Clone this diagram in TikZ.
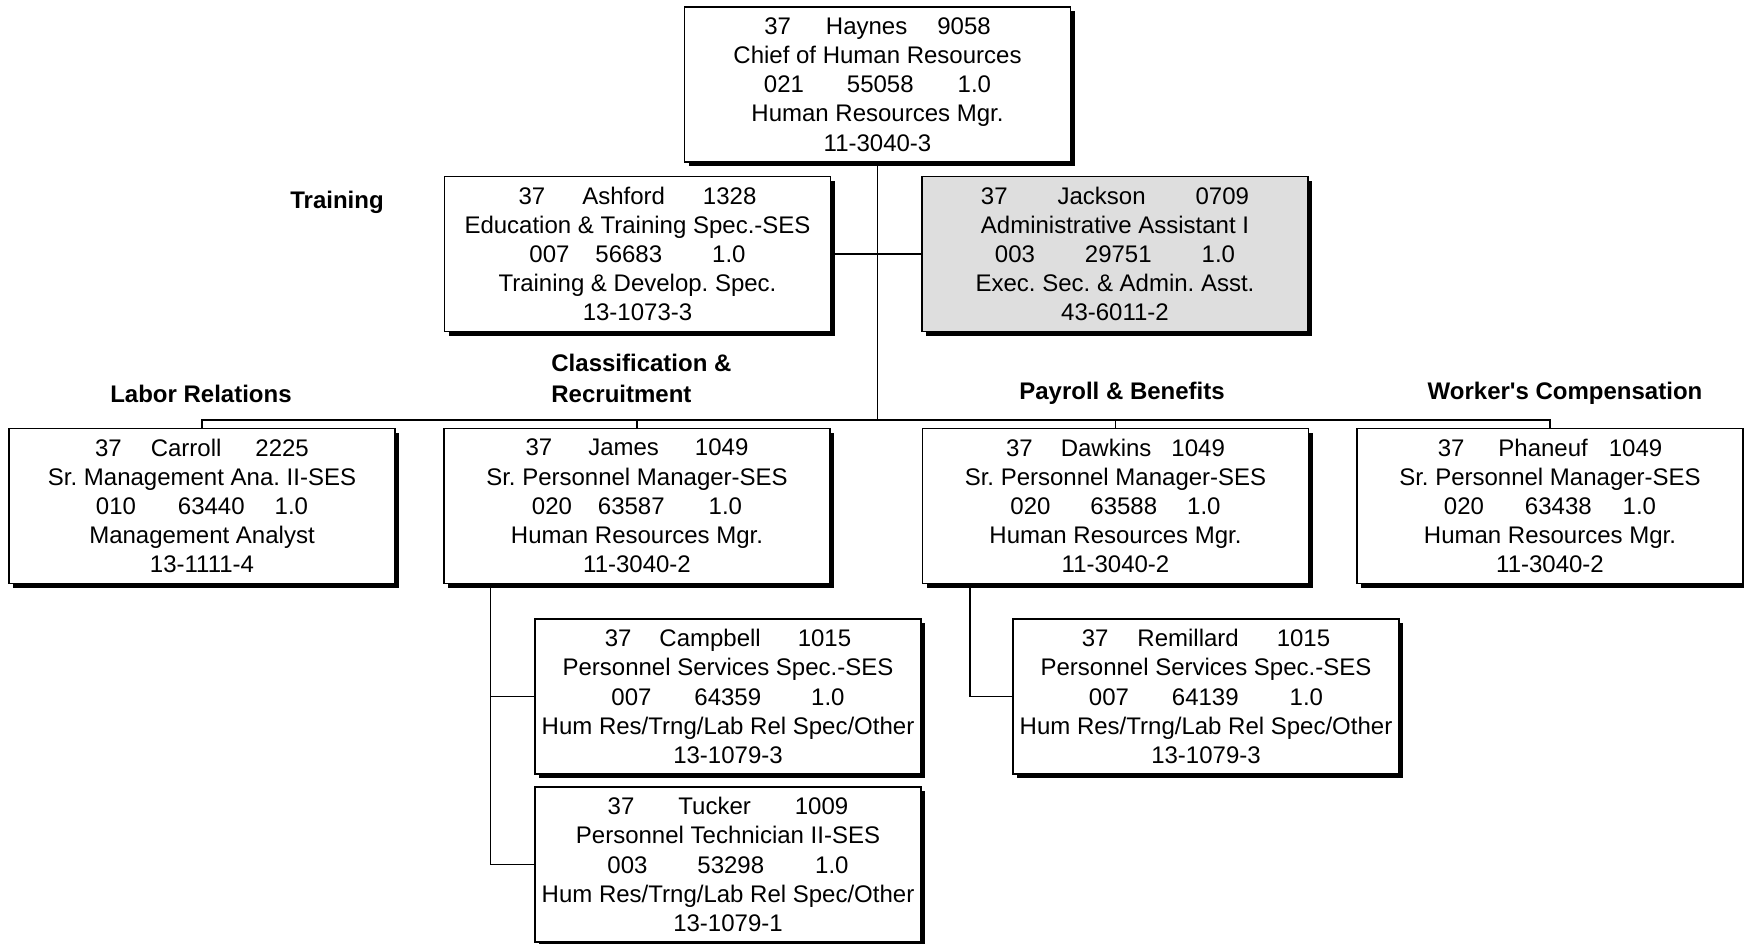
\documentclass[tikz,border=0pt]{standalone}
\usepackage{fontspec}
\setmainfont{Liberation Sans}[Ligatures=TeXOff]
\usetikzlibrary{shadows,calc}
\frenchspacing

% three items on one line, separated by the given gaps (in pt)
\newcommand\tri[5]{#1\hspace{#2pt}#3\hspace{#4pt}#5}

\begin{document}
\begin{tikzpicture}[x=0.5pt,y=-0.5pt,
  card/.style={draw=black, line width=0.7pt, fill=white,
    minimum width=193pt, minimum height=77.5pt, inner sep=0pt,
    align=center, font=\fontsize{12pt}{14.6pt}\selectfont,
    drop shadow={shadow xshift=2.2pt, shadow yshift=-2.2pt, fill=black, opacity=1}},
  cardgray/.style={card, fill=boxgray},
  lbl/.style={font=\fontsize{12pt}{14.6pt}\selectfont\bfseries, inner sep=0pt},
  wire/.style={line width=0.7pt}]
\definecolor{boxgray}{RGB}{222,222,222}
\useasboundingbox (0,0) rectangle (1744,943);

% top of the chart
\node[card] (haynes) at (877.5,84.5) {\tri{37}{17.5}{Haynes}{15}{9058}\\Chief of Human Resources\\\tri{021}{21.5}{55058}{22}{1.0}\\Human Resources Mgr.\\11-3040-3};

% staff level
\node[card] (ashford) at (637.5,254) {\tri{37}{18.5}{Ashford}{19}{1328}\\Education \& Training Spec.-SES\\\tri{007}{13}{56683}{25}{1.0}\\Training \& Develop. Spec.\\13-1073-3};
\node[cardgray] (jackson) at (1115,254) {\tri{37}{25}{Jackson}{25}{0709}\\Administrative Assistant I\\\tri{003}{25}{29751}{25}{1.0}\\Exec. Sec. \& Admin. Asst.\\43-6011-2};

% section heads
\node[card] (carroll) at (202,506) {\tri{37}{14.5}{Carroll}{17}{2225}\\Sr. Management Ana. II-SES\\\tri{010}{21}{63440}{15}{1.0}\\Management Analyst\\13-1111-4};
\node[card] (james) at (637,506) {\tri{37}{18}{James}{18}{1049}\\Sr. Personnel Manager-SES\\\tri{020}{13}{63587}{22}{1.0}\\Human Resources Mgr.\\11-3040-2};
\node[card] (dawkins) at (1115.5,506) {\tri{37}{14}{Dawkins}{10}{1049}\\Sr. Personnel Manager-SES\\\tri{020}{20}{63588}{15}{1.0}\\Human Resources Mgr.\\11-3040-2};
\node[card] (phaneuf) at (1550,506) {\tri{37}{17}{Phaneuf}{10.5}{1049}\\Sr. Personnel Manager-SES\\\tri{020}{20.5}{63438}{15.5}{1.0}\\Human Resources Mgr.\\11-3040-2};

% third level
\node[card] (campbell) at (728,696.5) {\tri{37}{14}{Campbell}{18.5}{1015}\\Personnel Services Spec.-SES\\\tri{007}{21.5}{64359}{25}{1.0}\\Hum Res/Trng/Lab Rel Spec/Other\\13-1079-3};
\node[card] (tucker) at (728,864.5) {\tri{37}{22}{Tucker}{22}{1009}\\Personnel Technician II-SES\\\tri{003}{25}{53298}{25.5}{1.0}\\Hum Res/Trng/Lab Rel Spec/Other\\13-1079-1};
\node[card] (remillard) at (1206,696.5) {\tri{37}{14.5}{Remillard}{19}{1015}\\Personnel Services Spec.-SES\\\tri{007}{21.5}{64139}{25.5}{1.0}\\Hum Res/Trng/Lab Rel Spec/Other\\13-1079-3};

% unit names
\node[lbl] (ltrain) at (337,202) {Training};
\node[lbl] (llabor) at (201,394) {Labor Relations};
\node[lbl, align=left, anchor=west, font=\fontsize{12pt}{15.5pt}\selectfont\bfseries] (lclass) at (551,378.5) {Classification \&\\Recruitment};
\node[lbl] (lpay) at (1122,393) {Payroll \& Benefits};
\node[lbl] (lwork) at (1565,393) {Worker's Compensation};

% connectors
\coordinate (bus) at (878,420);
\coordinate (jtop) at ($(james.south west)+(47,0)$);
\coordinate (dtop) at ($(dawkins.south west)+(48,0)$);
\draw[wire] (haynes.south) -- (haynes.south |- bus);
\draw[wire] (ashford.east) -- (jackson.west);
\draw[wire] (carroll.north) |- (phaneuf.north |- bus) -- (phaneuf.north);
\draw[wire] (james.north) -- (james.north |- bus);
\draw[wire] (dawkins.north) -- (dawkins.north |- bus);
\draw[wire] (jtop) |- (campbell.west);
\draw[wire] (jtop) |- (tucker.west);
\draw[wire] (dtop) |- (remillard.west);
\end{tikzpicture}
\end{document}
